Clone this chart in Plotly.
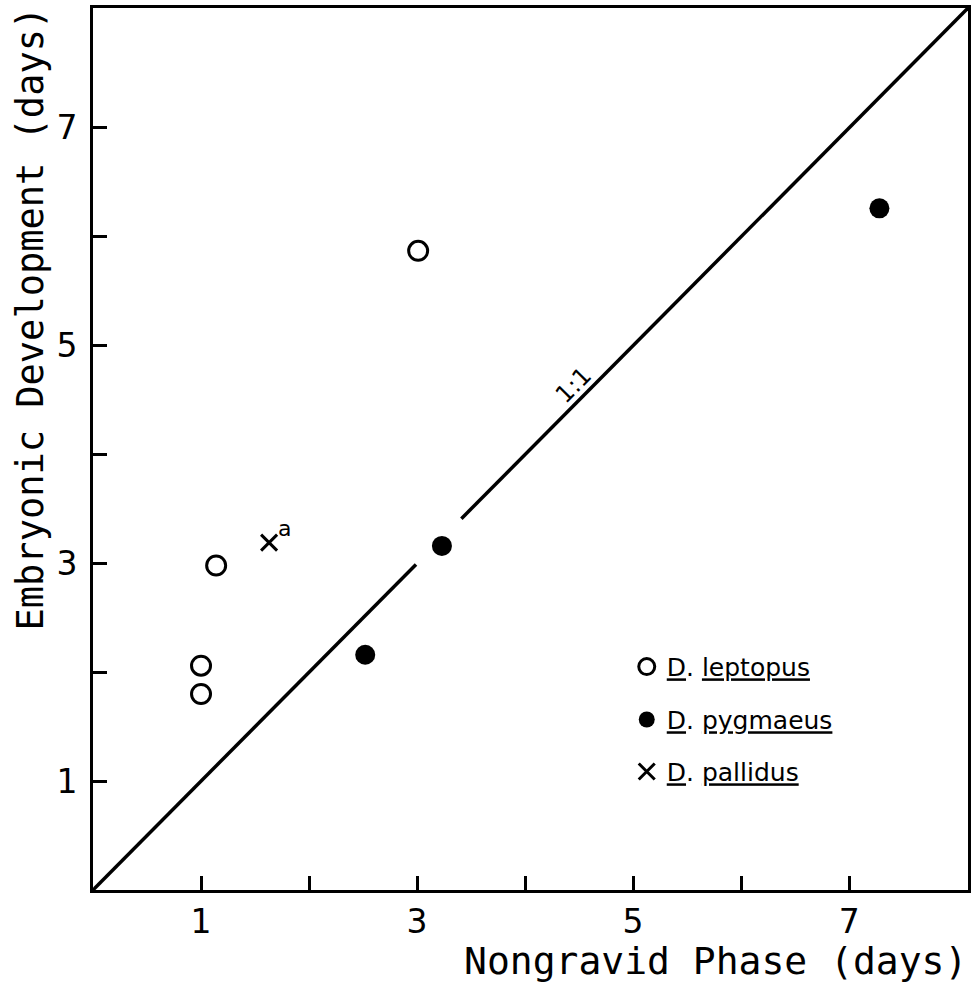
import plotly.graph_objects as go

# Nongravid phase vs. embryonic development (days) for three Daphnia species
leptopus_x = [1.0, 1.0, 1.14, 3.01]
leptopus_y = [2.06, 1.80, 2.98, 5.87]

pygmaeus_x = [2.52, 3.23, 7.28]
pygmaeus_y = [2.16, 3.16, 6.26]

pallidus_x = [1.63]
pallidus_y = [3.19]

# 1:1 reference line (broken where it passes the point near 3 days)
ref_x = [0.0, 2.99, None, 3.41, 8.1]
ref_y = [0.0, 2.99, None, 3.41, 8.1]

tick_vals = [1, 2, 3, 4, 5, 6, 7]
tick_text = ["1", "", "3", "", "5", "", "7"]

FONT = "DejaVu Sans"
TITLE_FONT = "DejaVu Sans Mono"
AX_RANGE = [0, 8.1]

fig = go.Figure()

fig.add_trace(go.Scatter(
    x=ref_x, y=ref_y, mode="lines",
    line=dict(color="black", width=3.5),
    showlegend=False, hoverinfo="skip",
))

fig.add_trace(go.Scatter(
    x=leptopus_x, y=leptopus_y, mode="markers",
    name="<u>D</u>. <u>leptopus</u>",
    marker=dict(symbol="circle-open", size=19, color="black",
                line=dict(width=3, color="black")),
    legend="legend",
))

fig.add_trace(go.Scatter(
    x=pygmaeus_x, y=pygmaeus_y, mode="markers",
    name="<u>D</u>. <u>pygmaeus</u>",
    marker=dict(symbol="circle", size=20, color="black",
                line=dict(width=0)),
    legend="legend2",
))

fig.add_trace(go.Scatter(
    x=pallidus_x, y=pallidus_y, mode="markers",
    name="<u>D</u>. <u>pallidus</u>",
    marker=dict(symbol="x-thin-open", size=16, color="black",
                line=dict(width=3, color="black")),
    legend="legend3",
))

axis_common = dict(
    range=AX_RANGE,
    tickvals=tick_vals,
    ticktext=tick_text,
    ticks="inside",
    ticklen=14,
    tickwidth=2.5,
    tickcolor="black",
    showline=True,
    linewidth=3,
    linecolor="black",
    mirror=True,
    showgrid=False,
    zeroline=False,
    tickfont=dict(family=FONT, size=33, color="black"),
)

fig.update_xaxes(**axis_common)
fig.update_yaxes(**axis_common, ticklabelstandoff=6)

legend_common = dict(
    x=0.61, xanchor="left", yanchor="middle",
    bgcolor="rgba(0,0,0,0)", borderwidth=0,
    font=dict(family=FONT, size=25, color="black"),
    itemsizing="trace",
)

fig.update_layout(
    width=975, height=987,
    margin=dict(l=93, r=4, t=8, b=97),
    paper_bgcolor="white",
    plot_bgcolor="white",
    legend=dict(**legend_common, y=0.253),
    legend2=dict(**legend_common, y=0.193),
    legend3=dict(**legend_common, y=0.134),
    annotations=[
        dict(text="Nongravid Phase (days)", xref="paper", yref="paper",
             x=1.0, y=-0.054, xanchor="right", yanchor="top",
             showarrow=False, borderpad=0,
             font=dict(family=TITLE_FONT, size=38, color="black")),
        dict(text="Embryonic Development (days)", xref="paper", yref="paper",
             x=-0.072, y=1.004, xanchor="center", yanchor="top",
             textangle=-90, showarrow=False,
             font=dict(family=TITLE_FONT, size=37, color="black")),
        dict(text="1:1", x=4.45, y=4.64, xref="x", yref="y",
             textangle=-45, showarrow=False,
             font=dict(family=FONT, size=24, color="black")),
        dict(text="a", x=pallidus_x[0], y=pallidus_y[0], xref="x", yref="y",
             xshift=15, yshift=14, showarrow=False,
             font=dict(family=FONT, size=22, color="black")),
    ],
)

fig.write_html("out.html")
